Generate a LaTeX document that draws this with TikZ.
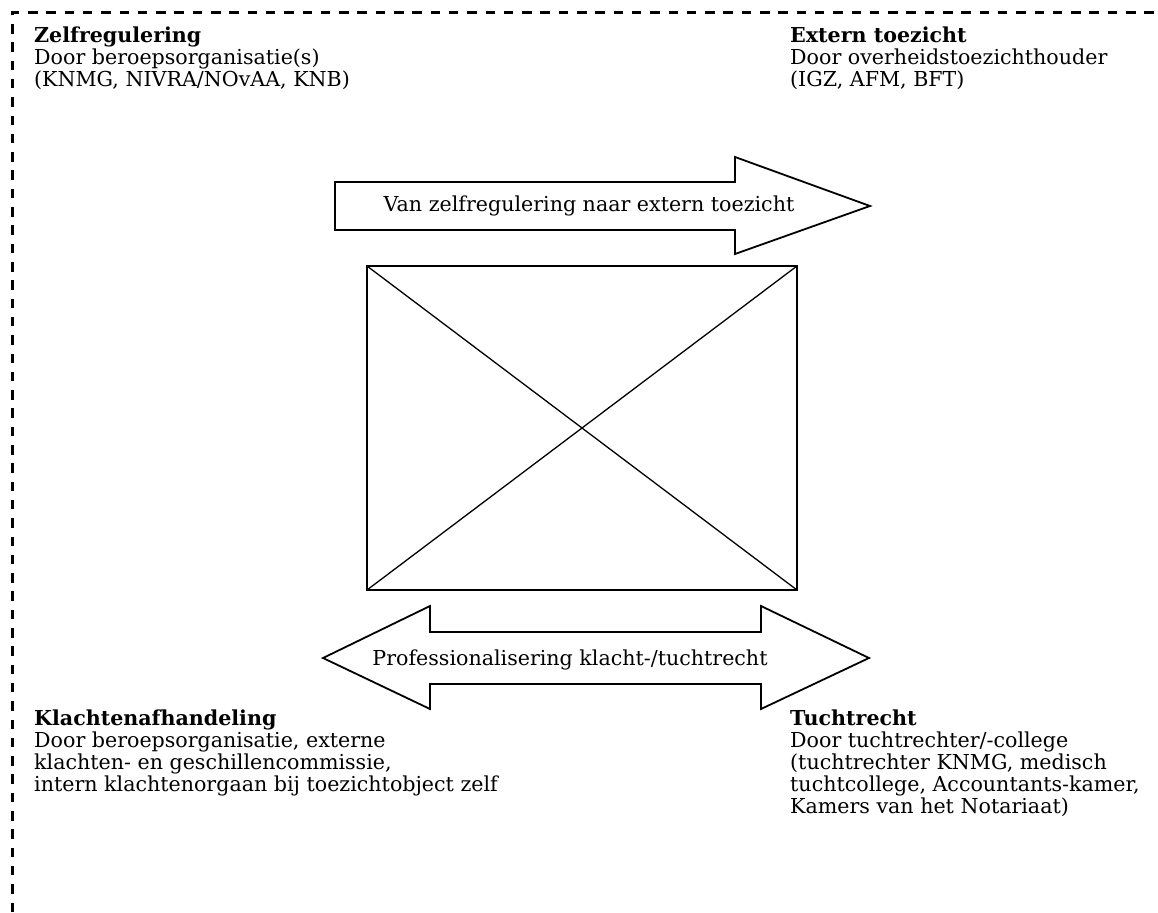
\documentclass[tikz,border=0pt]{standalone}
\usepackage{fontspec}
\setmainfont{DejaVu Serif}
\begin{document}
\begin{tikzpicture}[x=1pt,y=-1pt,
  frame/.style={line width=2.2pt,dash pattern=on 9.5pt off 8.8pt},
  shapeline/.style={line width=1.8pt,line join=miter},
  crossline/.style={line width=1.3pt},
  blocktext/.style={anchor=north west,inner sep=0pt,align=left,font=\fontsize{20.6}{21.8}\selectfont},
  arrowtext/.style={inner sep=0pt,font=\fontsize{20.6}{21.8}\selectfont}]
\useasboundingbox (0,0) rectangle (1158,912);
% dashed frame (only top and left edges visible)
\draw[frame] (12.5,912) -- (12.5,12.5) -- (1158,12.5);
% top arrow
\draw[shapeline] (335,182) -- (735,182) -- (735,157) -- (870,206) -- (735,254) -- (735,230) -- (335,230) -- cycle;
\node[arrowtext] (toptext) at (589,206) {Van zelfregulering naar extern toezicht};
% rectangle with cross
\draw[shapeline] (367,266) rectangle (797,590);
\draw[crossline] (367,266) -- (797,590);
\draw[crossline] (797,266) -- (367,590);
% bottom double arrow
\draw[shapeline] (323,658) -- (430,606) -- (430,632) -- (761,632) -- (761,606) -- (869,658) -- (761,709) -- (761,684) -- (430,684) -- (430,709) -- cycle;
\node[arrowtext] (bottext) at (570,660) {Professionalisering klacht-/tuchtrecht};
% text blocks
\node[blocktext] (zelf) at (34,27) {\textbf{Zelfregulering}\\Door beroepsorganisatie(s)\\(KNMG, NIVRA/NOvAA, KNB)};
\node[blocktext] (extern) at (790,27) {\textbf{Extern toezicht}\\Door overheidstoezichthouder\\(IGZ, AFM, BFT)};
\node[blocktext] (klacht) at (34,710) {\textbf{Klachtenafhandeling}\\Door beroepsorganisatie, externe\\klachten- en geschillencommissie,\\intern klachtenorgaan bij toezichtobject zelf};
\node[blocktext] (tucht) at (790,710) {\textbf{Tuchtrecht}\\Door tuchtrechter/-college\\(tuchtrechter KNMG, medisch\\tuchtcollege, Accountants-kamer,\\Kamers van het Notariaat)};
\end{tikzpicture}
\end{document}
